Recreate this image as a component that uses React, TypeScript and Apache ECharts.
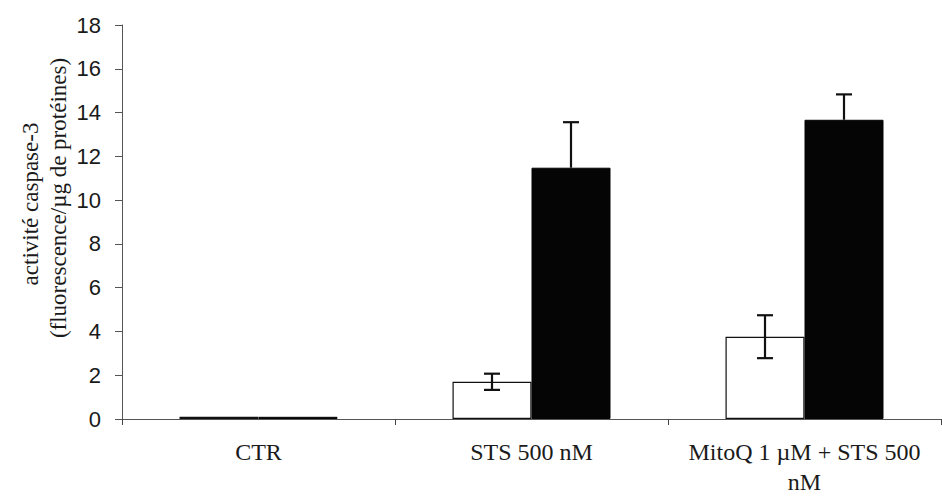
import React, { useEffect, useRef } from "react";
import * as echarts from "echarts";

const categories = ["CTR", "STS 500 nM", "MitoQ 1 µM + STS 500\nnM"];
const whiteValues = [0.1, 1.7, 3.76];
const blackValues = [0.1, 11.48, 13.67];
const whiteErrors = [0, 0.37, 0.98];
const blackErrors = [0, 2.08, 1.16];
const yTicks = { min: 0, max: 18, interval: 2 };
const yName1 = "activité caspase-3";
const yName2 = "(fluorescence/µg de protéines)";

const BAR_W = 79;

export default function App() {
  const ref = useRef<HTMLDivElement>(null);
  useEffect(() => {
    if (!ref.current) return;
    const chart = echarts.init(ref.current, undefined, { renderer: "svg" });
    const errData: any[] = [];
    categories.forEach((_, i) => {
      errData.push([i, whiteValues[i], whiteErrors[i], -1, 1]);
      errData.push([i, blackValues[i], blackErrors[i], 1, 0]);
    });
    chart.setOption({
      animation: false,
      backgroundColor: "#ffffff",
      grid: {
        left: 122,
        right: 1,
        top: 25,
        bottom: 79,
        containLabel: false,
        outerBoundsMode: "none",
      },
      xAxis: {
        type: "category",
        data: categories,
        axisLine: { lineStyle: { color: "#555", width: 1 } },
        axisTick: { show: true, length: 6, lineStyle: { color: "#444" } },
        axisLabel: {
          color: "#1a1a1a",
          fontFamily: "'Liberation Serif', 'Times New Roman', serif",
          fontSize: 24,
          lineHeight: 30,
          margin: 18,
          interval: 0,
        },
      },
      yAxis: {
        type: "value",
        min: yTicks.min,
        max: yTicks.max,
        interval: yTicks.interval,
        axisLine: { show: true, lineStyle: { color: "#555", width: 1 } },
        axisTick: { show: true, length: 7, lineStyle: { color: "#555" } },
        splitLine: { show: false },
        axisLabel: {
          color: "#1a1a1a",
          fontFamily: "'Liberation Sans', Arial, sans-serif",
          fontSize: 22,
          margin: 21,
        },
      },
      graphic: [
        {
          type: "text",
          x: 30,
          y: 204,
          rotation: Math.PI / 2,
          style: {
            text: yName1,
            align: "center",
            verticalAlign: "middle",
            font: "23px 'Liberation Serif', 'Times New Roman', serif",
            fill: "#1a1a1a",
          },
        },
        {
          type: "text",
          x: 58,
          y: 198,
          rotation: Math.PI / 2,
          style: {
            text: yName2,
            align: "center",
            verticalAlign: "middle",
            font: "23px 'Liberation Serif', 'Times New Roman', serif",
            fill: "#1a1a1a",
          },
        },
      ],
      series: [
        {
          type: "bar",
          data: whiteValues,
          barWidth: BAR_W,
          barGap: "0%",
          itemStyle: { color: "#ffffff", borderColor: "#111", borderWidth: 1.2 },
        },
        {
          type: "bar",
          data: blackValues,
          barWidth: BAR_W,
          barGap: "0%",
          itemStyle: { color: "#050505", borderColor: "#050505", borderWidth: 1 },
        },
        {
          type: "custom",
          z: 10,
          data: errData,
          renderItem: (params: any, api: any) => {
            const cat = api.value(0);
            const val = api.value(1);
            const err = api.value(2);
            const side = api.value(3);
            const both = api.value(4);
            if (!err) return null;
            const base = api.coord([cat, val]);
            const top = api.coord([cat, val + err]);
            const bot = api.coord([cat, both ? val - err : val]);
            const x = base[0] + (side * BAR_W) / 2;
            const hw = 8;
            const style = { stroke: "#111", lineWidth: 2.2 };
            const children: any[] = [
              { type: "line", shape: { x1: x, y1: top[1], x2: x, y2: bot[1] }, style },
              { type: "line", shape: { x1: x - hw, y1: top[1], x2: x + hw, y2: top[1] }, style },
            ];
            if (both) {
              children.push({
                type: "line",
                shape: { x1: x - hw, y1: bot[1], x2: x + hw, y2: bot[1] },
                style,
              });
            }
            return { type: "group", children };
          },
        },
      ],
    });
    return () => chart.dispose();
  }, []);
  return <div ref={ref} style={{ width: 942, height: 498, position: "absolute", left: 0, top: 0 }} />;
}
